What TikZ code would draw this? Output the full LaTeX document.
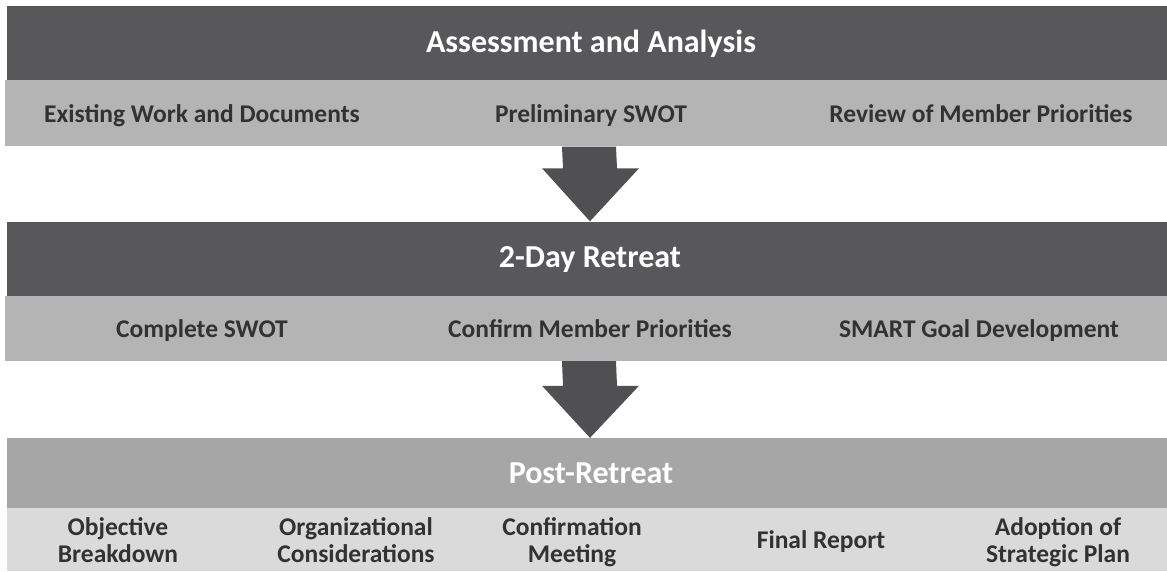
\documentclass[tikz,border=0pt]{standalone}
\usepackage{fontspec}
\setmainfont{Carlito}
\usepackage{tikz}
\usetikzlibrary{positioning,calc}
\definecolor{bardark}{RGB}{88,88,90}
\definecolor{barlight}{RGB}{180,180,180}
\definecolor{barmid}{RGB}{166,166,166}
\definecolor{barpale}{RGB}{218,218,218}
\definecolor{arrowgrey}{RGB}{80,80,82}
\definecolor{labelgrey}{RGB}{50,50,50}

\begin{document}
\begin{tikzpicture}[
    x=1pt, y=-1pt,
    phase/.style={rectangle, fill=bardark, inner sep=0pt, minimum width=1160pt,
                  minimum height=74pt},
    phasetitle/.style={text=white, anchor=base, font=\fontsize{32}{36}\selectfont\bfseries},
    task/.style={rectangle, fill=barlight, inner sep=0pt, minimum width=1162pt,
                 minimum height=66pt},
    item/.style={text=labelgrey, anchor=base, align=center, inner sep=0pt,
                 font=\fontsize{25.5}{27}\selectfont\bfseries},
    blockarrow/.style={fill=arrowgrey}
]
\useasboundingbox (0,0) rectangle (1167,571);

% stage 1
\node[phase] (p1) at (587,43) {};
\node[phasetitle] (h1) at (591,52) {Assessment and Analysis};
\node[task, below=0pt of p1.south east, anchor=north east] (t1) {};
\node[item] (a1) at (202,122) {Existing Work and Documents};
\node[item] (a2) at (591,122) {Preliminary SWOT};
\node[item] (a3) at (981,122) {Review of Member Priorities};

% stage 2
\node[phase] (p2) at (587,258.5) {};
\node[phasetitle] (h2) at (590,267) {2-Day Retreat};
\node[task, minimum height=65pt, below=0pt of p2.south east, anchor=north east] (t2) {};
\node[item] (b1) at (202,337) {Complete SWOT};
\node[item] (b2) at (590,337) {Confirm Member Priorities};
\node[item] (b3) at (979,337) {SMART Goal Development};

% stage 3
\node[phase, fill=barmid, minimum height=70pt] (p3) at (587,473) {};
\node[phasetitle] (h3) at (591,483) {Post-Retreat};
\node[task, fill=barpale, minimum height=63pt, minimum width=1160pt,
      below=0pt of p3.south east, anchor=north east] (t3) {};
\node[item, anchor=north] (c1) at (118,517) {Objective\\Breakdown};
\node[item, anchor=north] (c2) at (356,517) {Organizational\\Considerations};
\node[item, anchor=north] (c3) at (572,517) {Confirmation\\Meeting};
\node[item, anchor=center] (c4) at (821,542) {Final Report};
\node[item, anchor=north] (c5) at (1058,517) {Adoption of\\Strategic Plan};

% block arrows between the stages
\fill[blockarrow] ($(t1.south)+(-24,0)$) -- ($(t1.south)+(30,0)$)
    -- ($(p2.north)+(30,-53)$) -- ($(p2.north)+(52,-53)$)
    -- ($(p2.north)+(3,0)$)
    -- ($(p2.north)+(-45,-53)$) -- ($(p2.north)+(-24,-53)$) -- cycle;
\fill[blockarrow] ($(t2.south)+(-24,0)$) -- ($(t2.south)+(30,0)$)
    -- ($(p3.north)+(30,-52)$) -- ($(p3.north)+(52,-52)$)
    -- ($(p3.north)+(3,0)$)
    -- ($(p3.north)+(-45,-52)$) -- ($(p3.north)+(-24,-52)$) -- cycle;
\end{tikzpicture}
\end{document}
